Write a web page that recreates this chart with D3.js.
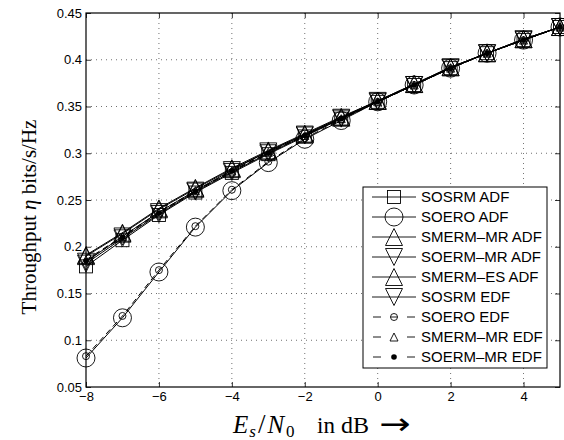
<!DOCTYPE html>
<html><head><meta charset="utf-8">
<script src="https://cdn.jsdelivr.net/npm/d3@7"></script>
<style>body{margin:0;background:#fff}svg{display:block}</style>
</head><body>
<svg id="c" width="564" height="440"></svg>
<script>
const snr = [-8,-7,-6,-5,-4,-3,-2,-1,0,1,2,3,4,5];
const sosrmADF   = [0.179,0.207,0.234,0.258,0.279,0.299,0.318,0.337,0.355,0.373,0.391,0.407,0.421,0.435];
const soeroADF   = [0.081,0.124,0.173,0.221,0.260,0.290,0.315,0.335,0.355,0.373,0.391,0.407,0.421,0.435];
const smermMrADF = [0.191,0.215,0.241,0.263,0.284,0.303,0.321,0.339,0.356,0.374,0.392,0.407,0.422,0.435];
const soermMrADF = [0.184,0.211,0.237,0.260,0.282,0.302,0.320,0.338,0.356,0.373,0.392,0.407,0.422,0.435];
const smermEsADF = [0.190,0.214,0.240,0.262,0.283,0.302,0.320,0.338,0.356,0.374,0.392,0.407,0.422,0.435];
const sosrmEDF   = [0.182,0.209,0.235,0.259,0.280,0.300,0.319,0.337,0.355,0.373,0.391,0.407,0.421,0.435];
const soeroEDF   = [0.083,0.126,0.175,0.222,0.261,0.291,0.316,0.336,0.355,0.373,0.391,0.407,0.421,0.435];
const smermMrEDF = [0.186,0.211,0.237,0.260,0.281,0.301,0.319,0.337,0.355,0.373,0.391,0.407,0.421,0.435];
const soermMrEDF = [0.185,0.210,0.236,0.259,0.281,0.300,0.319,0.337,0.355,0.373,0.391,0.407,0.421,0.435];
const xTicks = [-8,-6,-4,-2,0,2,4];
const yTicks = [0.05,0.1,0.15,0.2,0.25,0.3,0.35,0.4,0.45];
const yTickLabels = ["0.05","0.1","0.15","0.2","0.25","0.3","0.35","0.4","0.45"];
const seriesNames = ["SOSRM ADF","SOERO ADF","SMERM\u2013MR ADF","SOERM\u2013MR ADF","SMERM\u2013ES ADF","SOSRM EDF","SOERO EDF","SMERM\u2013MR EDF","SOERM\u2013MR EDF"];
const seriesData = [sosrmADF,soeroADF,smermMrADF,soermMrADF,smermEsADF,sosrmEDF,soeroEDF,smermMrEDF,soermMrEDF];
const seriesMarker = ["square","circle","up","down","up","down","smallcircle","smallup","dot"];
const seriesDashed = [false,false,false,false,false,false,true,true,true];

const svg = d3.select("#c");
const L=86,R=560,T=13,B=387;
const x = d3.scaleLinear().domain([-8,5]).range([L,R]);
const y = d3.scaleLinear().domain([0.05,0.45]).range([B,T]);

// grid
const g = svg.append("g");
xTicks.filter(v=>v>-8).forEach(v=>{
  g.append("line").attr("x1",x(v)).attr("x2",x(v)).attr("y1",T).attr("y2",B)
   .attr("stroke","#000").attr("stroke-width",0.8).attr("stroke-dasharray","1,4").attr("opacity",0.7);
});
yTicks.filter(v=>v>0.05&&v<0.45).forEach(v=>{
  g.append("line").attr("x1",L).attr("x2",R).attr("y1",y(v)).attr("y2",y(v))
   .attr("stroke","#000").attr("stroke-width",0.8).attr("stroke-dasharray","1,4").attr("opacity",0.7);
});

// axes
const font = "Liberation Sans, Arial, Helvetica, sans-serif";
const xa = svg.append("g").attr("transform",`translate(0,${B})`)
  .call(d3.axisBottom(x).tickValues(xTicks).tickSize(-5).tickPadding(5).tickFormat(d=>d<0?"\u2212"+(-d):d));
const xa2 = svg.append("g").attr("transform",`translate(0,${T})`)
  .call(d3.axisTop(x).tickValues(xTicks).tickSize(-5).tickFormat(""));
const ya = svg.append("g").attr("transform",`translate(${L},0)`)
  .call(d3.axisLeft(y).tickValues(yTicks).tickSize(-5).tickPadding(4).tickFormat((d,i)=>yTickLabels[i]));
const ya2 = svg.append("g").attr("transform",`translate(${R},0)`)
  .call(d3.axisRight(y).tickValues(yTicks).tickSize(-5).tickFormat(""));
[xa,xa2,ya,ya2].forEach(a=>{
  a.select(".domain").remove();
  a.selectAll("line").attr("stroke","#000").attr("stroke-width",0.8);
  a.selectAll("text").attr("font-family",font).attr("font-size",13).attr("fill","#000");
});
xa.selectAll("text").attr("dy","0.71em");

// lines
const line = d3.line().x((d,i)=>x(snr[i])).y(d=>y(d));
const lg = svg.append("g");
seriesData.forEach((s,k)=>{
  lg.append("path").attr("d",line(s)).attr("fill","none").attr("stroke","#000")
    .attr("stroke-width",1).attr("stroke-dasharray",seriesDashed[k]?"6,4":null);
});

function marker(sel,type,cx,cy){
  if(type==="square"){
    sel.append("rect").attr("x",cx-6.5).attr("y",cy-6.5).attr("width",13).attr("height",13)
      .attr("fill","none").attr("stroke","#000").attr("stroke-width",0.9);
  } else if(type==="circle"){
    sel.append("circle").attr("cx",cx).attr("cy",cy).attr("r",9)
      .attr("fill","none").attr("stroke","#000").attr("stroke-width",0.9);
  } else if(type==="up"||type==="down"||type==="smallup"){
    const h = type==="smallup"?4:8.5, w = type==="smallup"?4:8.5;
    const s = type==="down"?-1:1;
    sel.append("path").attr("d",`M${cx},${cy-s*h} L${cx+w},${cy+s*h} L${cx-w},${cy+s*h} Z`)
      .attr("fill","none").attr("stroke","#000").attr("stroke-width",0.9);
  } else if(type==="smallcircle"){
    sel.append("circle").attr("cx",cx).attr("cy",cy).attr("r",3.5)
      .attr("fill","none").attr("stroke","#000").attr("stroke-width",0.9);
  } else if(type==="dot"){
    sel.append("circle").attr("cx",cx).attr("cy",cy).attr("r",2.8).attr("fill","#000");
  }
}
const mg = svg.append("g");
seriesData.forEach((s,k)=>{
  s.forEach((v,i)=>marker(mg,seriesMarker[k],x(snr[i]),y(v)));
});

// box
svg.append("rect").attr("x",L).attr("y",T).attr("width",R-L).attr("height",B-T)
  .attr("fill","none").attr("stroke","#000").attr("stroke-width",1.2);

// legend
const lgd = svg.append("g");
lgd.append("rect").attr("x",363).attr("y",187).attr("width",184).attr("height",181)
  .attr("fill","#fff").attr("stroke","#000").attr("stroke-width",1);
seriesNames.forEach((n,k)=>{
  const yy = 197 + k*20;
  if(seriesDashed[k]){
    lgd.append("line").attr("x1",373).attr("x2",381).attr("y1",yy).attr("y2",yy).attr("stroke","#000").attr("stroke-width",0.9);
    lgd.append("line").attr("x1",407).attr("x2",415).attr("y1",yy).attr("y2",yy).attr("stroke","#000").attr("stroke-width",0.9);
  } else {
    lgd.append("line").attr("x1",372).attr("x2",416).attr("y1",yy).attr("y2",yy).attr("stroke","#000").attr("stroke-width",0.9);
  }
  marker(lgd,seriesMarker[k],394,yy);
  if(seriesMarker[k]==="smallcircle"){
    lgd.append("line").attr("x1",390.5).attr("x2",397.5).attr("y1",yy).attr("y2",yy).attr("stroke","#000").attr("stroke-width",0.9);
  }
  lgd.append("text").attr("x",421).attr("y",yy).attr("dy","0.36em")
    .attr("font-family",font).attr("font-size",15).text(n);
});

// axis labels
const serif = "Liberation Serif, Times New Roman, serif";
const xl = svg.append("text").attr("x",233).attr("y",433)
  .attr("font-family",serif).attr("font-size",25);
xl.append("tspan").attr("font-style","italic").text("E");
xl.append("tspan").attr("font-style","italic").attr("font-size",17).attr("dy",4).attr("dx",1).text("s");
xl.append("tspan").attr("dy",-4).attr("dx",2).attr("font-size",27).text("/");
xl.append("tspan").attr("font-style","italic").attr("dx",2).text("N");
xl.append("tspan").attr("font-size",17).attr("dy",4).attr("dx",2).text("0");
svg.append("text").attr("x",317).attr("y",433).attr("font-family",serif).attr("font-size",23).text("in");
svg.append("text").attr("x",341).attr("y",433).attr("font-family",serif).attr("font-size",24).text("dB");
svg.append("g").attr("transform","translate(379,434) scale(1.25,1)")
  .append("text").attr("x",0).attr("y",0).attr("font-family","DejaVu Sans").attr("font-size",30).text("\u2192");

const yl = svg.append("text").attr("transform","translate(36,217) rotate(-90)").attr("text-anchor","middle")
  .attr("font-family",serif).attr("font-size",21);
yl.append("tspan").text("Throughput ");
yl.append("tspan").attr("font-style","italic").text("\u03b7");
yl.append("tspan").text(" bits/s/Hz");
</script>
</body></html>
